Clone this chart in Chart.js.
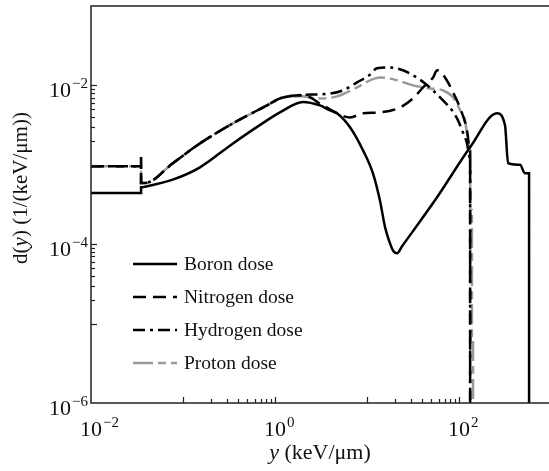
<!DOCTYPE html>
<html><head><meta charset="utf-8">
<script src="https://cdn.jsdelivr.net/npm/chart.js@4.4.0/dist/chart.umd.min.js"></script>
<style>html,body{margin:0;padding:0;background:#fff;overflow:hidden}</style>
</head><body>
<canvas id="c" width="549" height="471"></canvas>
<script>
// lineal energy y (keV/um) and dose distribution d(y) (1/(keV/um))
const boronX=[0.01,0.035,0.035,0.0386,0.08,0.153,0.349,0.818,1.13,2.01,3.08,3.96,4.72,6.53,9.05,11.6,13.8,15.7,17.3,19.3,21.2,24.0,57.7,132,259,316,341,460,521,577,577];
const boronY=[4.4e-4,4.4e-4,5.2e-4,5.3e-4,6.6e-4,9.3e-4,1.86e-3,3.63e-3,4.57e-3,6.2e-3,5.6e-3,4.85e-3,4.45e-3,2.97e-3,1.52e-3,7.8e-4,3.57e-4,1.64e-4,1.12e-4,8.2e-5,7.7e-5,9.4e-5,3.9e-4,1.66e-3,4.45e-3,3.14e-3,1.05e-3,1.0e-3,7.8e-4,7.8e-4,5e-7];

// low-y part shared by the nitrogen, hydrogen and proton curves
const commonX=[0.0386,0.0778,0.153,0.349,0.818,1.13];
const commonY=[5.9e-4,1.05e-3,1.86e-3,3.33e-3,5.6e-3,6.85e-3];

const nitrogenX=[0.01,0.035,0.035,...commonX,2.01,3.32,4.72,6.53,9.05,13.8,22.8,31.6,40.6,52.2,57.7,70.4,86.1,103,122,132,132];
const nitrogenY=[9.6e-4,9.6e-4,5.9e-4,...commonY,7.5e-3,5.6e-3,4.45e-3,3.95e-3,4.45e-3,4.57e-3,5.28e-3,6.85e-3,9.44e-3,1.26e-2,1.55e-2,1.26e-2,8.17e-3,5.14e-3,2.72e-3,1.5e-3,5e-7];

const hydrogenX=[0.01,0.035,0.035,0.035,...commonX,1.73,3.96,5.48,7.78,10.8,12.8,17.8,24.6,31.6,42.7,52.2,67,83.9,97.5,108,122,132,132];
const hydrogenY=[9.6e-4,9.6e-4,1.25e-3,5.9e-4,...commonY,7.5e-3,7.9e-3,8.65e-3,1.09e-2,1.37e-2,1.64e-2,1.68e-2,1.55e-2,1.34e-2,1.06e-2,8.65e-3,6.47e-3,4.85e-3,3.63e-3,2.72e-3,1.86e-3,1.2e-3,5e-7];

const protonX=[0.01,0.035,0.035,0.035,...commonX,1.87,3.08,4.72,7.78,10.8,13.8,21.2,31.6,48.4,67,86.1,103,116,122,132,132,138,138,142,142];
const protonY=[9.6e-4,9.6e-4,1.31e-3,5.9e-4,...commonY,7.28e-3,6.85e-3,7.28e-3,9.44e-3,1.16e-2,1.26e-2,1.16e-2,1.0e-2,9.16e-3,8.65e-3,7.07e-3,4.85e-3,3.63e-3,2.5e-3,1.5e-3,2.7e-4,2.7e-4,6.8e-6,6.8e-6,5e-7];

const seriesNames=['Boron dose','Nitrogen dose','Hydrogen dose','Proton dose'];
const xLabelExps=[-2,0,2];
const yLabelExps=[-6,-4,-2];

const SERIF='"Liberation Serif","Times New Roman",serif';
function pts(xs,ys){return xs.map((x,i)=>({x:x,y:ys[i]}));}

// draws 10^n with a raised exponent; align 'center' centres the base on x, 'right' ends the label at x
function drawPow(ctx,exp,x,baseY,align){
  const base='10', sup=(exp<0?'\u2212':'')+Math.abs(exp);
  ctx.font='22px '+SERIF;
  const bw=ctx.measureText(base).width;
  ctx.font='15px '+SERIF;
  const sw=ctx.measureText(sup).width;
  let bx = align==='center' ? x-bw/2 : x-bw-sw-1;
  ctx.textAlign='left'; ctx.textBaseline='alphabetic';
  ctx.font='22px '+SERIF; ctx.fillText(base,bx,baseY);
  ctx.font='15px '+SERIF; ctx.fillText(sup,bx+bw+1,baseY-9);
}

function drawMixed(ctx,parts,cx,baseY,size){
  let w=0;
  parts.forEach(p=>{ctx.font=(p[1]?'italic ':'')+size+'px '+SERIF; w+=ctx.measureText(p[0]).width;});
  let x=cx-w/2;
  ctx.textAlign='left'; ctx.textBaseline='alphabetic';
  parts.forEach(p=>{ctx.font=(p[1]?'italic ':'')+size+'px '+SERIF; ctx.fillText(p[0],x,baseY); x+=ctx.measureText(p[0]).width;});
}

const framePlugin={
  id:'frame',
  afterDraw(chart){
    const ctx=chart.ctx, a=chart.chartArea, xs=chart.scales.x, ys=chart.scales.y;
    ctx.save();
    ctx.strokeStyle='#222'; ctx.lineWidth=1.5; ctx.setLineDash([]);
    ctx.beginPath();
    ctx.moveTo(a.right,a.top); ctx.lineTo(a.left,a.top); ctx.lineTo(a.left,a.bottom); ctx.lineTo(a.right,a.bottom);
    ctx.stroke();
    // inward ticks
    ctx.lineWidth=1.2;
    const tick=(px,py,len,vert)=>{ctx.beginPath(); if(vert){ctx.moveTo(px,py);ctx.lineTo(px,py-len);}else{ctx.moveTo(px,py);ctx.lineTo(px+len,py);} ctx.stroke();};
    for(let e=-1;e<=2;e++) tick(Math.round(xs.getPixelForValue(Math.pow(10,e)))+0.5,a.bottom,6,true);
    [-1,1].forEach(e=>{for(let m=2;m<=9;m++) tick(Math.round(xs.getPixelForValue(m*Math.pow(10,e)))+0.5,a.bottom,4,true);});
    for(let e=-5;e<=-2;e++) tick(a.left,Math.round(ys.getPixelForValue(Math.pow(10,e)))+0.5,6,false);
    [-3,-5].forEach(e=>{for(let m=2;m<=9;m++) tick(a.left,Math.round(ys.getPixelForValue(m*Math.pow(10,e)))+0.5,4,false);});
    // tick labels
    ctx.fillStyle='#111';
    xLabelExps.forEach(e=>drawPow(ctx,e,xs.getPixelForValue(Math.pow(10,e)),a.bottom+33,'center'));
    yLabelExps.forEach(e=>drawPow(ctx,e,a.left-3,ys.getPixelForValue(Math.pow(10,e))+12,'right'));
    // axis titles
    drawMixed(ctx,[['y',true],[' (keV/\u03bcm)',false]],(a.left+a.right)/2,a.bottom+56,22);
    ctx.save();
    ctx.translate(27,188);
    ctx.rotate(-Math.PI/2);
    drawMixed(ctx,[['d(',false],['y',true],[') (1/(keV/\u03bcm))',false]],0,0,21);
    ctx.restore();
    // legend
    const rows=[264,297,330,363];
    chart.data.datasets.forEach((ds,i)=>{
      ctx.strokeStyle=ds.borderColor; ctx.lineWidth=ds.borderWidth; ctx.setLineDash(ds.borderDash||[]);
      ctx.beginPath(); ctx.moveTo(133,rows[i]); ctx.lineTo(177,rows[i]); ctx.stroke();
      ctx.setLineDash([]);
      ctx.fillStyle='#111'; ctx.font='19.5px '+SERIF; ctx.textAlign='left'; ctx.textBaseline='middle';
      ctx.fillText(ds.label,184,rows[i]+1);
    });
    ctx.restore();
  }
};

new Chart(document.getElementById('c'),{
  type:'line',
  data:{datasets:[
    {label:seriesNames[0],data:pts(boronX,boronY),borderColor:'#000',borderWidth:2.5,borderDash:[]},
    {label:seriesNames[1],data:pts(nitrogenX,nitrogenY),borderColor:'#000',borderWidth:2.5,borderDash:[13,7]},
    {label:seriesNames[2],data:pts(hydrogenX,hydrogenY),borderColor:'#000',borderWidth:2.5,borderDash:[12,5,3,5]},
    {label:seriesNames[3],data:pts(protonX,protonY),borderColor:'#9a9a9a',borderWidth:2.5,borderDash:[20,5,8,5]}
  ]},
  options:{
    responsive:false,animation:false,
    layout:{padding:{left:91,top:6,right:0,bottom:68}},
    elements:{point:{radius:0},line:{cubicInterpolationMode:'monotone',fill:false,borderCapStyle:'butt',borderJoinStyle:'miter'}},
    plugins:{legend:{display:false},tooltip:{enabled:false}},
    scales:{
      x:{type:'logarithmic',display:false,min:0.01,max:950},
      y:{type:'logarithmic',display:false,min:1e-6,max:1e-1}
    }
  },
  plugins:[framePlugin]
});
</script>
</body></html>
